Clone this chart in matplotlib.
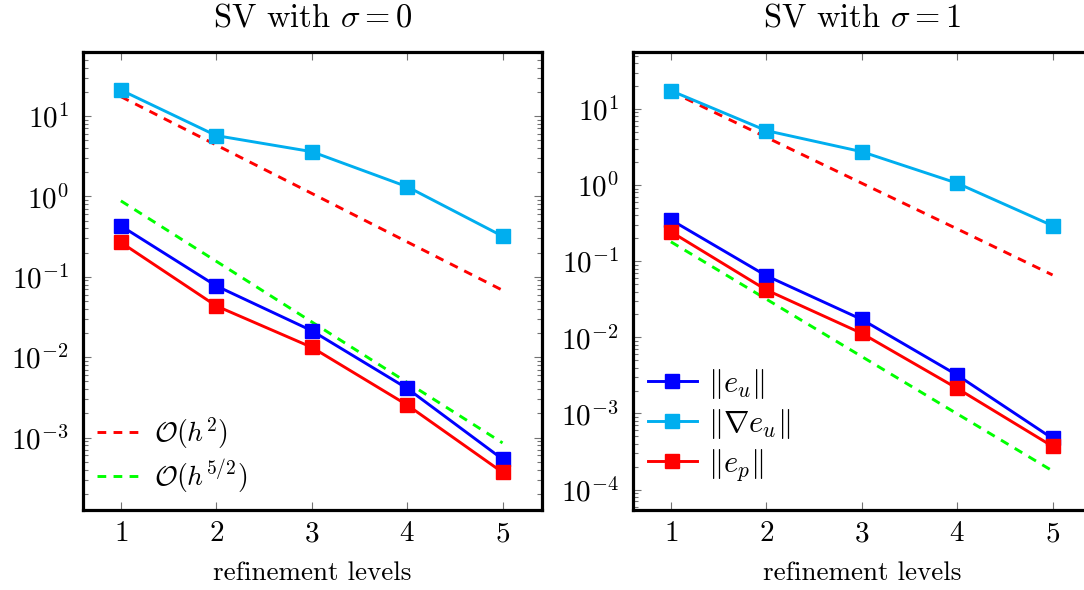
import numpy as np
import matplotlib
matplotlib.use("Agg")
import matplotlib.pyplot as plt
from matplotlib.ticker import LogLocator, NullFormatter

plt.rcParams['font.family'] = 'serif'
plt.rcParams['font.serif'] = ['cmr10', 'DejaVu Serif']
plt.rcParams['mathtext.fontset'] = 'cm'
plt.rcParams['axes.unicode_minus'] = False
plt.rcParams['axes.formatter.use_mathtext'] = True
plt.rcParams['font.size'] = 19.5

levels = [1, 2, 3, 4, 5]

# sigma = 0
eu_0 = [0.43, 0.077, 0.0214, 0.0041, 5.4e-4]
grad_eu_0 = [21, 5.7, 3.6, 1.32, 0.32]
ep_0 = [0.268, 0.0434, 0.0133, 0.00255, 3.7e-4]
ref2_0 = [17.4, 4.35, 1.09, 0.272, 0.068]
ref25_0 = [0.88, 0.156, 0.0275, 0.00486, 8.6e-4]

# sigma = 1
eu_1 = [0.35, 0.0645, 0.0172, 0.0032, 4.7e-4]
grad_eu_1 = [17.4, 5.2, 2.75, 1.06, 0.293]
ep_1 = [0.244, 0.042, 0.0113, 0.00214, 3.7e-4]
ref2_1 = [17.0, 4.25, 1.06, 0.266, 0.066]
ref25_1 = [0.18, 0.0318, 0.0056, 9.9e-4, 1.76e-4]

blue = '#0000ff'
cyan = '#00aeef'
red = '#ff0000'
green = '#00ff00'

fig = plt.figure(figsize=(10.84, 5.90), dpi=100)
ax1 = fig.add_axes([0.0763, 0.1356, 0.4234, 0.7768])
ax2 = fig.add_axes([0.5837, 0.1356, 0.4234, 0.7768])


def draw(ax, eu, geu, ep, r2, r25, title, ylim):
    ax.plot(levels, r2, color=red, lw=2.1, ls=(0, (3, 2.5)), label=r'$\mathcal{O}(h^2)$')
    ax.plot(levels, r25, color=green, lw=2.1, ls=(0, (3, 2.5)), label=r'$\mathcal{O}(h^{5/2})$')
    ax.plot(levels, eu, color=blue, lw=2.1, marker='s', ms=10, label=r'$\|e_u\|$')
    ax.plot(levels, geu, color=cyan, lw=2.1, marker='s', ms=10, label=r'$\|\nabla e_u\|$')
    ax.plot(levels, ep, color=red, lw=2.1, marker='s', ms=10, label=r'$\|e_p\|$')
    ax.set_yscale('log')
    ax.set_xlim(0.6, 5.41)
    ax.set_ylim(*ylim)
    ax.set_xticks(levels)
    ax.yaxis.set_major_locator(LogLocator(base=10, numticks=20))
    ax.yaxis.set_minor_locator(LogLocator(base=10, subs=np.arange(2, 10), numticks=20))
    ax.yaxis.set_minor_formatter(NullFormatter())
    ax.tick_params(which='both', direction='in', top=True, right=True, color='0.45', width=0.8,
                   labelsize=21)
    ax.tick_params(which='major', length=6)
    ax.tick_params(axis='x', which='major', pad=8)
    ax.tick_params(axis='y', which='major', pad=10)
    ax.tick_params(which='minor', length=3.5)
    for s in ax.spines.values():
        s.set_linewidth(2.3)
    ax.set_title(title, pad=18)
    ax.set_xlabel('refinement levels', labelpad=10)


draw(ax1, eu_0, grad_eu_0, ep_0, ref2_0, ref25_0, r'SV with $\sigma = 0$', (1.26e-4, 63))
draw(ax2, eu_1, grad_eu_1, ep_1, ref2_1, ref25_1, r'SV with $\sigma = 1$', (5.4e-5, 56.6))

h1, l1 = ax1.get_legend_handles_labels()
ax1.legend(h1[:2], l1[:2], loc='lower left', frameon=False, handlelength=1.5,
           borderaxespad=0.1, labelspacing=0.25, handletextpad=0.55,
           bbox_to_anchor=(0.0, 0.0), fontsize=20)
h2, l2 = ax2.get_legend_handles_labels()
ax2.legend(h2[2:], l2[2:], loc='lower left', frameon=False, handlelength=1.6,
           borderaxespad=0.1, labelspacing=0.2, handletextpad=0.35,
           bbox_to_anchor=(0.0, 0.025), fontsize=22)

fig.savefig('out.png', dpi=100)
